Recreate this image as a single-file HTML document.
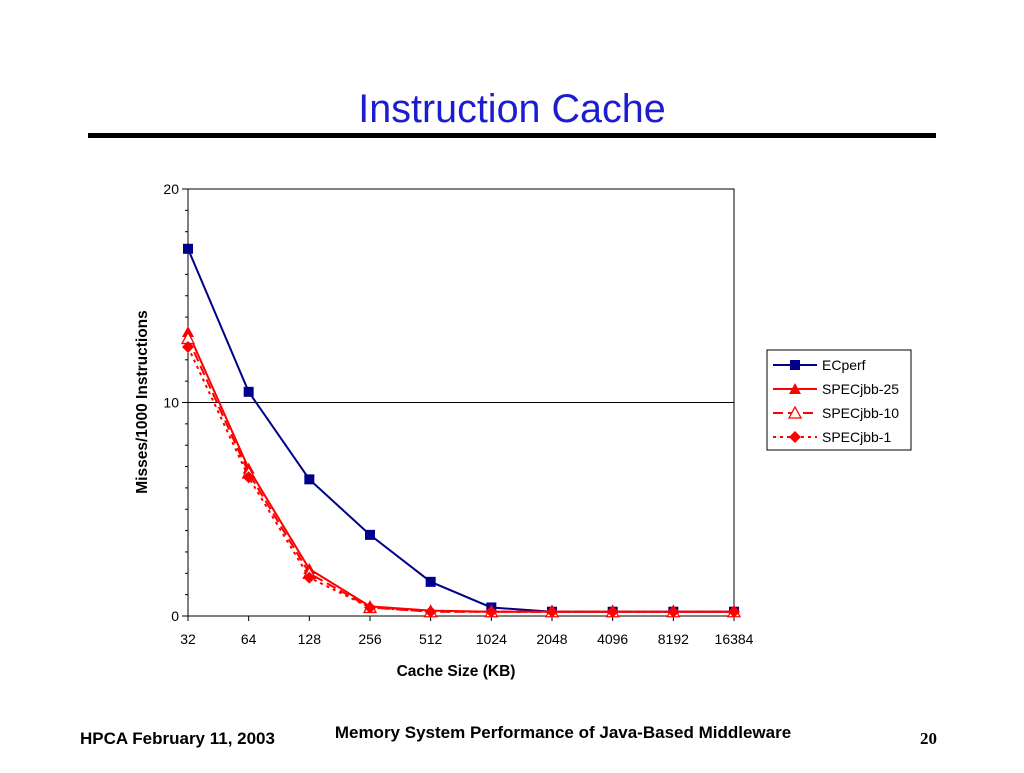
<!DOCTYPE html>
<html><head><meta charset="utf-8"><style>
body{margin:0;background:#fff;width:1024px;height:768px;overflow:hidden;font-family:"Liberation Sans",Arial,sans-serif}
</style></head><body>
<svg id="c" width="1024" height="768" xmlns="http://www.w3.org/2000/svg" font-family="Liberation Sans, Arial, sans-serif">
<text x="512" y="122" text-anchor="middle" font-size="39.5" fill="#1c1cd0">Instruction Cache</text>
<rect x="88" y="133" width="848" height="5" fill="#000"/>
<rect x="188" y="189" width="546" height="427" fill="none" stroke="#000" stroke-width="1"/>
<g id="axes"></g>
<g id="series"></g>
<text x="0" y="0" transform="translate(147,402) rotate(-90)" text-anchor="middle" font-size="15.5" font-weight="bold">Misses/1000 Instructions</text>
<text x="456" y="676" text-anchor="middle" font-size="15.5" font-weight="bold">Cache Size (KB)</text>
<g>
<rect x="767" y="350" width="144" height="100" fill="#fff" stroke="#000"/>
<g id="legend"></g>
</g>
<text x="80" y="744" font-size="17" font-weight="bold">HPCA February 11, 2003</text>
<text x="563" y="738" text-anchor="middle" font-size="17" font-weight="bold">Memory System Performance of Java-Based Middleware</text>
<text x="937" y="744" text-anchor="end" font-size="17" font-weight="bold" font-family="Liberation Serif, serif">20</text>
</svg>
<script>
const categories=["32","64","128","256","512","1024","2048","4096","8192","16384"];
const ecperf=[17.2,10.5,6.4,3.8,1.6,0.4,0.2,0.2,0.2,0.2];
const specjbb25=[13.3,6.9,2.2,0.45,0.25,0.2,0.2,0.2,0.2,0.2];
const specjbb10=[13.0,6.7,2.0,0.4,0.2,0.2,0.2,0.2,0.2,0.2];
const specjbb1=[12.6,6.5,1.8,0.4,0.2,0.2,0.2,0.2,0.2,0.2];
const yTicks=[0,10,20];
const NS="http://www.w3.org/2000/svg";
const X0=188,X1=734,Y0=616,Y1=189,YMAX=20;
const xs=i=>X0+i*(X1-X0)/(categories.length-1);
const ys=v=>Y0-v*(Y0-Y1)/YMAX;
function mk(t,a,p){const e=document.createElementNS(NS,t);for(const k in a)e.setAttribute(k,a[k]);p.appendChild(e);return e;}
const ax=document.getElementById('axes');
for(let v=1;v<YMAX;v++){const l=mk('line',{x1:X0-3,x2:X0,y1:ys(v),y2:ys(v),stroke:'#000'},ax);

}
yTicks.forEach(v=>{const l=mk('line',{x1:X0-6,x2:v==10?X1:X0,y1:ys(v),y2:ys(v),stroke:'#000'},ax);


const t=mk('text',{x:X0-9,y:ys(v)+5,'text-anchor':'end','font-size':14},ax);t.textContent=v;

});
categories.forEach((c,i)=>{const l=mk('line',{x1:xs(i),x2:xs(i),y1:Y0,y2:Y0+5,stroke:'#000'},ax);


const t=mk('text',{x:xs(i),y:Y0+28,'text-anchor':'middle','font-size':14},ax);t.textContent=c;

});
function marker(type,x,y,col,p){
 if(type=='sq')return mk('rect',{x:x-5,y:y-5,width:10,height:10,fill:col},p);
 if(type=='tri')return mk('polygon',{points:`${x},${y-6} ${x-6},${y+5} ${x+6},${y+5}`,fill:col},p);
 if(type=='otri')return mk('polygon',{points:`${x},${y-6} ${x-6},${y+5} ${x+6},${y+5}`,fill:'#fff',stroke:col,'stroke-width':1.3},p);
 return mk('polygon',{points:`${x},${y-6} ${x+6},${y} ${x},${y+6} ${x-6},${y}`,fill:col},p);
}
const defs=[
 {name:'ECperf',d:ecperf,col:'#00008b',dash:'',m:'sq',id:'ecperf'},
 {name:'SPECjbb-25',d:specjbb25,col:'#ff0000',dash:'',m:'tri',id:'specjbb-25'},
 {name:'SPECjbb-10',d:specjbb10,col:'#ff0000',dash:'10,5',m:'otri',id:'specjbb-10'},
 {name:'SPECjbb-1',d:specjbb1,col:'#ff0000',dash:'3,4',m:'dia',id:'specjbb-1'}];
const sg=document.getElementById('series'),lg=document.getElementById('legend');
defs.forEach((s,k)=>{
 const g=mk('g',{},sg);
 
 
 const pl=mk('polyline',{points:s.d.map((v,i)=>xs(i)+','+ys(v)).join(' '),fill:'none',stroke:s.col,'stroke-width':2,'stroke-dasharray':s.dash},g);
 
 
 s.d.forEach((v,i)=>{const m=marker(s.m,xs(i),ys(v),s.col,g);
  
  });
 const ly=365+k*24;
 const le=mk('g',{},lg);
 
 
 mk('line',{x1:773,x2:817,y1:ly,y2:ly,stroke:s.col,'stroke-width':2,'stroke-dasharray':s.dash},le);
 marker(s.m,795,ly,s.col,le);
 const t=mk('text',{x:822,y:ly+5,'font-size':14},le);t.textContent=s.name;
});
</script>
</body></html>
